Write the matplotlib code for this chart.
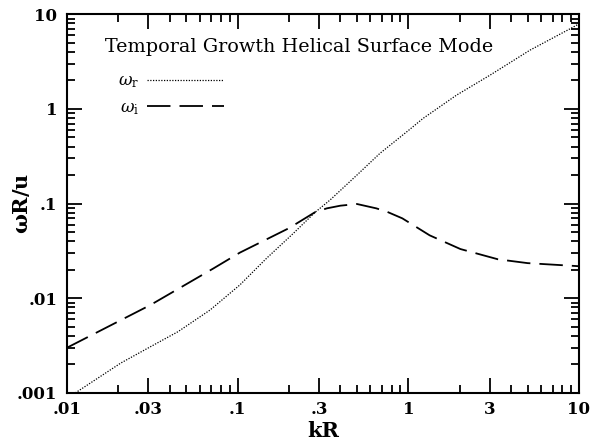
import matplotlib
matplotlib.use("Agg")
import matplotlib.pyplot as plt
from matplotlib.ticker import FixedLocator, FixedFormatter, LogLocator, NullFormatter

# Data
kr_real = [0.0112, 0.0207, 0.0309, 0.0447, 0.0689, 0.103, 0.148, 0.212,
           0.284, 0.348, 0.50, 0.682, 1.0, 1.22, 1.92, 3.01, 5.16, 8.85, 10.0]
w_real = [0.001, 0.00207, 0.00308, 0.00443, 0.0075, 0.0138, 0.0265, 0.0484,
          0.0807, 0.109, 0.20, 0.339, 0.59, 0.793, 1.40, 2.27, 4.17, 7.0, 7.9]

kr_imag = [0.01, 0.0309, 0.072, 0.103, 0.2, 0.284, 0.333, 0.40, 0.50, 0.65, 0.75,
           0.923, 1.334, 2.02, 3.35, 5.0, 10.0]
w_imag = [0.003, 0.0085, 0.0206, 0.0303, 0.055, 0.081, 0.089, 0.095, 0.099, 0.089, 0.082,
          0.0698, 0.0462, 0.0331, 0.0258, 0.0235, 0.0218]

x_ticks = [0.01, 0.03, 0.1, 0.3, 1, 3, 10]
x_labels = [".01", ".03", ".1", ".3", "1", "3", "10"]
y_ticks = [0.001, 0.01, 0.1, 1, 10]
y_labels = [".001", ".01", ".1", "1", "10"]

plt.rcParams["font.family"] = "DejaVu Serif"
plt.rcParams["mathtext.fontset"] = "dejavuserif"

fig = plt.figure(figsize=(5.92, 4.44), dpi=100)
ax = fig.add_axes([0.113, 0.115, 0.865, 0.853])

ax.plot(kr_real, w_real, color="black", lw=0.9, linestyle=(0, (1, 1.2)),
        label=r"$\omega_{\rm r}$")
ax.plot(kr_imag, w_imag, color="black", lw=1.3, linestyle=(0, (13, 5)),
        label=r"$\omega_{\rm i}$")

ax.set_xscale("log")
ax.set_yscale("log")
ax.set_xlim(0.01, 10)
ax.set_ylim(0.001, 10)

ax.xaxis.set_major_locator(FixedLocator(x_ticks))
ax.xaxis.set_major_formatter(FixedFormatter(x_labels))
ax.xaxis.set_minor_locator(LogLocator(base=10, subs=[2, 4, 5, 6, 7, 8, 9]))
ax.xaxis.set_minor_formatter(NullFormatter())
ax.yaxis.set_major_locator(FixedLocator(y_ticks))
ax.yaxis.set_major_formatter(FixedFormatter(y_labels))
ax.yaxis.set_minor_locator(LogLocator(base=10, subs=range(2, 10)))
ax.yaxis.set_minor_formatter(NullFormatter())

ax.tick_params(which="both", direction="in", top=True, right=True, width=1.3)
ax.tick_params(which="major", length=11, labelsize=12)
ax.tick_params(axis="y", which="major", pad=7)
ax.tick_params(axis="x", which="major", pad=6)
ax.tick_params(which="minor", length=5.5)
for lab in ax.get_xticklabels() + ax.get_yticklabels():
    lab.set_fontweight("bold")
for sp in ax.spines.values():
    sp.set_linewidth(1.5)

ax.set_xlabel("kR", fontsize=15, fontweight="bold", labelpad=2)
ax.set_ylabel(r"$\mathbf{\omega}$R/u", fontsize=15, fontweight="bold")
ax.yaxis.set_label_coords(-0.068, 0.5)

ax.text(0.074, 0.913, "Temporal Growth Helical Surface Mode", transform=ax.transAxes,
        fontsize=13.8, va="center", ha="left")

ax.legend(loc="upper left", bbox_to_anchor=(0.07, 0.886), frameon=False,
          markerfirst=False, fontsize=12, handlelength=4.6, labelspacing=0.55,
          handletextpad=0.5)

fig.savefig("out.png", dpi=100)
